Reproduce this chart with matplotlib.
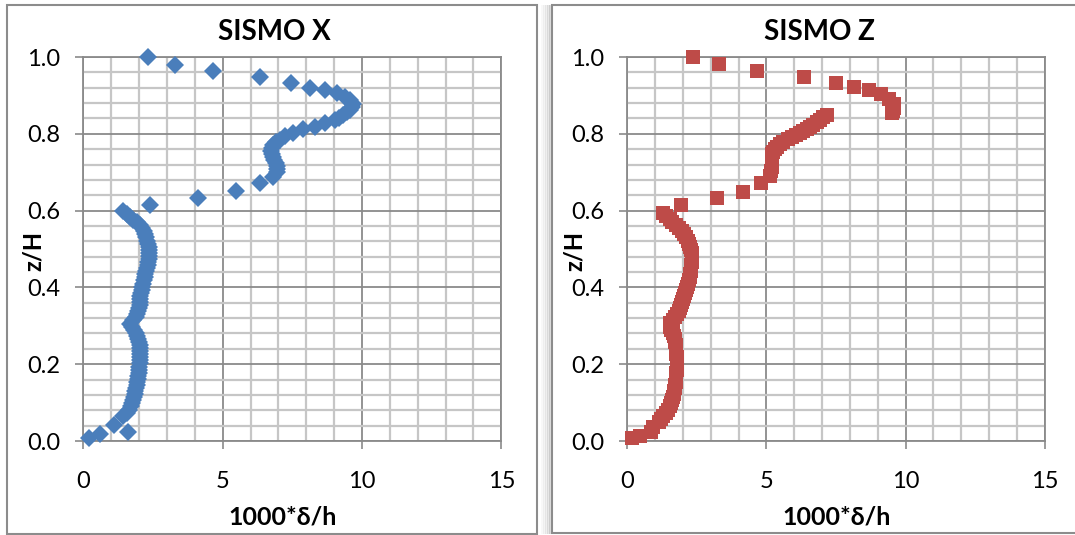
import matplotlib
matplotlib.use("Agg")
import matplotlib.pyplot as plt
from matplotlib.patches import Rectangle

plt.rcParams['font.family'] = ['Lato', 'DejaVu Sans']

# ---------------- data ----------------
x_ticks = [0, 5, 10, 15]
y_ticks = [0.0, 0.2, 0.4, 0.6, 0.8, 1.0]
y_tick_labels = ["0.0", "0.2", "0.4", "0.6", "0.8", "1.0"]
titles = ["SISMO X", "SISMO Z"]
x_label = "1000*δ/h"
y_label = "z/H"

sismo_x_drift = [
    2.33, 3.28, 4.64, 6.33, 7.46, 8.13, 8.67, 9.09, 9.39, 9.57, 9.69, 9.64, 9.57, 9.45,
    9.33, 9.18, 9.03, 8.67, 8.31, 7.89, 7.53, 7.24, 7.05, 6.92, 6.82, 6.76, 6.74, 6.76,
    6.80, 6.85, 6.90, 6.94, 6.96, 6.95, 6.82, 6.33, 5.47, 4.13, 2.39,
    1.44, 1.58, 1.68, 1.80, 1.92, 2.02, 2.10, 2.17, 2.22, 2.26, 2.29, 2.32, 2.34, 2.35,
    2.35, 2.35, 2.34, 2.33, 2.31, 2.29, 2.26, 2.23, 2.20, 2.17, 2.14, 2.11, 2.09, 2.07,
    2.05, 2.04, 2.03, 2.02, 2.00, 1.97, 1.93, 1.88, 1.80, 1.68, 1.75, 1.82, 1.88, 1.93,
    1.97, 2.00, 2.02, 2.03, 2.04, 2.04, 2.04, 2.03, 2.02, 2.01, 2.00, 1.99, 1.97, 1.96,
    1.94, 1.92, 1.90, 1.87, 1.84, 1.81, 1.78, 1.74, 1.70, 1.64, 1.56, 1.44, 1.11, 1.61,
    0.60, 0.20,
]
sismo_x_height = [
    1.000, 0.980, 0.963, 0.947, 0.931, 0.920, 0.914, 0.905, 0.897, 0.888, 0.877, 0.869, 0.862, 0.856,
    0.849, 0.842, 0.836, 0.827, 0.818, 0.812, 0.802, 0.793, 0.785, 0.778, 0.770, 0.762, 0.755, 0.748,
    0.740, 0.732, 0.724, 0.716, 0.708, 0.700, 0.688, 0.671, 0.651, 0.632, 0.615,
    0.598, 0.590, 0.583, 0.576, 0.570, 0.562, 0.554, 0.546, 0.538, 0.530, 0.522, 0.514, 0.506, 0.498,
    0.490, 0.482, 0.474, 0.466, 0.458, 0.450, 0.442, 0.434, 0.426, 0.418, 0.410, 0.402, 0.394, 0.386,
    0.378, 0.370, 0.362, 0.354, 0.346, 0.338, 0.330, 0.322, 0.314, 0.305, 0.298, 0.290, 0.282, 0.274,
    0.266, 0.258, 0.250, 0.242, 0.234, 0.226, 0.218, 0.210, 0.202, 0.194, 0.186, 0.178, 0.170, 0.162,
    0.154, 0.146, 0.138, 0.130, 0.122, 0.114, 0.106, 0.098, 0.090, 0.082, 0.074, 0.064, 0.042, 0.024,
    0.019, 0.007,
]

sismo_z_drift = [
    2.35, 3.29, 4.66, 6.36, 7.50, 8.15, 8.70, 9.11, 9.42, 9.59, 9.60, 9.55, 9.51,
    7.17, 7.05, 6.93, 6.80, 6.69, 6.57, 6.45, 6.33, 6.21, 6.06, 5.91, 5.76, 5.61, 5.48,
    5.37, 5.29, 5.23, 5.20, 5.19, 5.19, 5.19, 5.19, 5.17, 5.13, 4.81, 4.17, 3.21, 1.93,
    1.27, 1.40, 1.52, 1.62, 1.74, 1.85, 1.96, 2.05, 2.12, 2.18, 2.23, 2.27, 2.30, 2.31,
    2.32, 2.32, 2.31, 2.30, 2.29, 2.28, 2.26, 2.24, 2.21, 2.18, 2.14, 2.11, 2.07, 2.04,
    2.00, 1.97, 1.94, 1.91, 1.86, 1.80, 1.72, 1.64, 1.55, 1.52, 1.58, 1.63, 1.67, 1.70,
    1.72, 1.74, 1.75, 1.76, 1.76, 1.77, 1.77, 1.77, 1.77, 1.77, 1.76, 1.76, 1.75, 1.74,
    1.73, 1.71, 1.69, 1.67, 1.64, 1.60, 1.56, 1.52, 1.46, 1.38, 1.30, 1.22, 1.14, 0.92,
    0.86, 0.46, 0.18,
]
sismo_z_height = [
    1.000, 0.981, 0.963, 0.947, 0.931, 0.923, 0.914, 0.903, 0.891, 0.877, 0.866, 0.860, 0.855,
    0.849, 0.843, 0.836, 0.830, 0.823, 0.817, 0.812, 0.807, 0.803, 0.797, 0.792, 0.786, 0.779, 0.773,
    0.766, 0.760, 0.753, 0.747, 0.740, 0.731, 0.722, 0.713, 0.704, 0.691, 0.671, 0.649, 0.632, 0.615,
    0.595, 0.587, 0.579, 0.571, 0.563, 0.554, 0.546, 0.538, 0.530, 0.522, 0.514, 0.506, 0.498, 0.490,
    0.482, 0.474, 0.466, 0.458, 0.450, 0.442, 0.434, 0.426, 0.418, 0.410, 0.402, 0.394, 0.386, 0.378,
    0.370, 0.362, 0.354, 0.346, 0.338, 0.330, 0.322, 0.314, 0.306, 0.298, 0.290, 0.282, 0.274, 0.266,
    0.258, 0.250, 0.242, 0.234, 0.226, 0.218, 0.210, 0.202, 0.194, 0.186, 0.178, 0.170, 0.162, 0.154,
    0.146, 0.138, 0.130, 0.122, 0.114, 0.106, 0.098, 0.090, 0.082, 0.074, 0.066, 0.058, 0.050, 0.036,
    0.024, 0.014, 0.008,
]

# ---------------- figure ----------------
W, H = 1075, 535
fig = plt.figure(figsize=(W / 100, H / 100), dpi=100)
fig.patch.set_facecolor("white")


def fx(px):
    return px / W


def fy(py):
    return 1 - py / H


# panel frames and shadow (drawn beneath the axes)
for i, a in enumerate([0.05, 0.08, 0.12, 0.18, 0.25]):
    fig.patches.append(Rectangle((fx(541 + i * 2), fy(534)), fx(3), 529 / H,
                                 transform=fig.transFigure, facecolor="#7f7f7f",
                                 alpha=a, edgecolor="none", zorder=-3))
fig.patches.append(Rectangle((fx(7), fy(534)), fx(530), 529 / H, transform=fig.transFigure,
                             facecolor="none", edgecolor="#8c8c8c", lw=1.5, zorder=-2))
fig.patches.append(Rectangle((fx(552), fy(533)), fx(540), 528 / H, transform=fig.transFigure,
                             facecolor="white", edgecolor="#8c8c8c", lw=1.5, zorder=-2))

panels = [
    dict(x0=83.3, x1=501.3, xs=sismo_x_drift, ys=sismo_x_height, marker="D", ms=9.0,
         color="#4A7EBB", title_x=274, label_x=283, ylab_x=33),
    dict(x0=627.3, x1=1044.7, xs=sismo_z_drift, ys=sismo_z_height, marker="s", ms=10.0,
         color="#BE4B48", title_x=819, label_x=837, ylab_x=574),
]

top_px, bot_px = 57, 441
major_grid = "#8a8a8a"
minor_grid = "#c6c6c6"

for p, title in zip(panels, titles):
    ax = fig.add_axes([fx(p["x0"]), fy(bot_px), (p["x1"] - p["x0"]) / W, (bot_px - top_px) / H])
    ax.set_zorder(2)
    ax.set_facecolor("white")
    ax.set_xlim(0, 15)
    ax.set_ylim(0, 1)
    ax.set_xticks(x_ticks)
    ax.set_xticks([v for v in range(1, 15) if v % 5], minor=True)
    ax.set_yticks(y_ticks)
    ax.set_yticklabels(y_tick_labels)
    ax.set_yticks([k * 0.04 for k in range(26) if k % 5], minor=True)
    ax.grid(which="minor", color=minor_grid, lw=1.6, zorder=0)
    ax.grid(which="major", color=major_grid, lw=1.3, zorder=0)
    ax.set_axisbelow(True)
    for s in ax.spines.values():
        s.set_color(major_grid)
        s.set_linewidth(1.3)
    ax.tick_params(which="major", direction="out", length=5.5, width=1.2, color=major_grid,
                   labelsize=17, labelcolor="black")
    ax.tick_params(axis="x", which="major", pad=16)
    ax.tick_params(axis="y", which="major", pad=11)
    ax.tick_params(which="minor", length=0)

    ax.plot(p["xs"], p["ys"], linestyle="none", marker=p["marker"], ms=p["ms"],
            color=p["color"], markeredgewidth=0, clip_on=False, zorder=3)

    fig.text(fx(p["title_x"]), fy(31.5), title, ha="center", va="center",
             fontsize=20, fontweight="bold", zorder=5)
    fig.text(fx(p["label_x"]), fy(517), x_label, ha="center", va="center",
             fontsize=18, fontweight="bold", zorder=5)
    fig.text(fx(p["ylab_x"]), fy(251), y_label, ha="center", va="center",
             fontsize=17, fontweight="bold", rotation=90, zorder=5)

fig.savefig("out.png", dpi=100, facecolor="white")
